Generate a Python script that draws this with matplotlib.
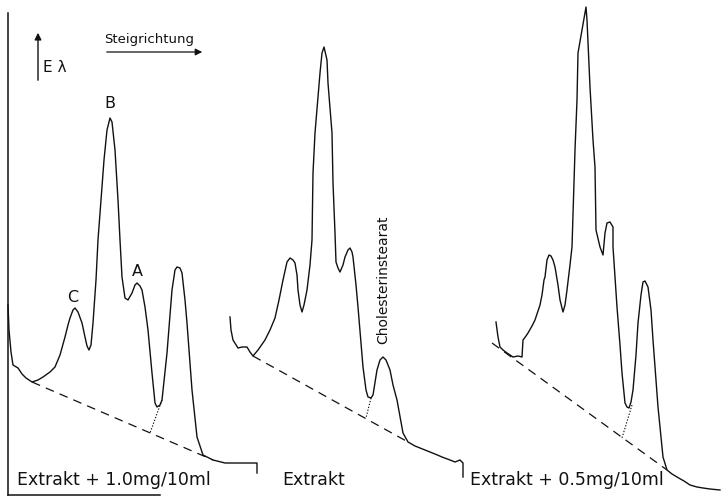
import matplotlib as mpl
mpl.use("Agg")
import matplotlib.pyplot as plt

# traces: position along run (x) and recorder depth from top (y, inverted axis)
tr1_x = [8, 9, 11, 13, 18, 22, 26, 32, 38, 43, 50, 55, 60, 65, 68, 70, 73, 75, 78, 82, 85, 87, 89, 91,
         93, 96, 98, 101, 104, 107, 110, 112, 115, 118, 120, 122, 125, 128, 132, 135, 137, 140, 142, 145,
         148, 152, 155, 157, 160, 162, 167, 170, 172, 175, 177, 180, 182, 185, 187, 192, 197, 203, 213,
         225, 240, 255, 257, 257]
tr1_y = [305, 330, 352, 365, 368, 374, 378, 382, 380, 377, 372, 367, 355, 337, 325, 318, 310, 308, 312, 323,
         337, 346, 350, 345, 323, 280, 240, 200, 160, 130, 118, 122, 150, 200, 240, 277, 298, 300, 293, 285,
         283, 286, 290, 307, 330, 373, 403, 407, 405, 400, 353, 315, 290, 270, 267, 268, 273, 300, 323, 390,
         437, 455, 460, 463, 463, 463, 463, 473]

tr2_x = [230, 231, 233, 238, 242, 247, 250, 253, 258, 265, 270, 275, 279, 283, 287, 290, 293, 295, 297, 298,
         300, 302, 304, 307, 310, 312, 313, 315, 320, 322, 324, 327, 328, 332, 333, 335, 336, 338, 340, 343,
         345, 348, 350, 352, 353, 356, 358, 363, 366, 368, 371, 373, 377, 380, 383, 386, 390, 393, 397, 403,
         408, 415, 425, 435, 442, 450, 455, 460, 463, 463]
tr2_y = [317, 330, 340, 348, 347, 347, 352, 356, 350, 340, 330, 318, 300, 280, 262, 258, 260, 263, 275, 290,
         305, 312, 305, 290, 265, 240, 173, 133, 73, 53, 47, 60, 83, 133, 183, 233, 262, 268, 272, 265,
         257, 250, 248, 252, 257, 285, 307, 367, 390, 397, 398, 395, 370, 360, 357, 360, 370, 385, 400, 433,
         442, 446, 450, 454, 457, 460, 462, 460, 463, 477]

tr3_x = [496, 498, 500, 503, 507, 513, 518, 522, 523, 526, 528, 532, 535, 540, 542, 544, 545, 547, 549, 551,
         553, 555, 558, 560, 563, 565, 567, 570, 572, 575, 577, 578, 582, 586, 587, 590, 593, 595, 596, 600,
         603, 605, 607, 610, 613, 613, 617, 620, 622, 625, 627, 629, 631, 633, 636, 638, 641, 643, 645, 648,
         651, 653, 658, 663, 667, 672, 677, 684, 690, 697, 703, 710, 720]
tr3_y = [322, 337, 347, 350, 353, 357, 356, 357, 340, 336, 333, 326, 320, 305, 295, 280, 277, 260, 255, 256,
         260, 267, 285, 300, 312, 305, 290, 265, 247, 150, 100, 53, 30, 7, 20, 87, 140, 167, 230, 247,
         255, 233, 223, 222, 227, 247, 307, 345, 373, 403, 407, 408, 402, 390, 355, 323, 295, 282, 281, 287,
         310, 340, 407, 457, 470, 474, 477, 481, 485, 487, 488, 489, 490]

# drawn-in baselines (dashed) and peak separations (dotted): (x0, y0, x1, y1)
base_lines = [(32, 382, 213, 460), (253, 356, 408, 442), (492, 343, 667, 470)]
split_lines = [(162, 400, 150, 433), (371, 398, 366, 418), (632, 405, 622, 438)]

peak_labels = ["C", "B", "A"]
peak_pos = [(73, 297), (110, 104), (137, 272)]
captions = ["Extrakt + 1.0mg/10ml", "Extrakt", "Extrakt + 0.5mg/10ml"]
caption_x = [17, 282, 470]

INK = "#111111"

fig = plt.figure(figsize=(7.21, 4.96), dpi=100)
ax = fig.add_axes([0, 0, 1, 1])
ax.set_xlim(0, 721)
ax.set_ylim(496, 0)
ax.axis("off")

# frame of the first recorder strip
fr = fig.add_axes([8 / 721, 1 / 496, 152 / 721, 482 / 496])
fr.patch.set_alpha(0)
for s in ("top", "right"):
    fr.spines[s].set_visible(False)
for s in ("left", "bottom"):
    fr.spines[s].set_linewidth(1.1)
    fr.spines[s].set_color(INK)
fr.set_xticks([]); fr.set_yticks([])

for xs, ys in ((tr1_x, tr1_y), (tr2_x, tr2_y), (tr3_x, tr3_y)):
    ax.plot(xs, ys, color=INK, lw=1.0, solid_joinstyle="round")
for x0, y0, x1, y1 in base_lines:
    ax.plot([x0, x1], [y0, y1], color=INK, lw=0.9, ls=(0, (7, 5)))
for x0, y0, x1, y1 in split_lines:
    ax.plot([x0, x1], [y0, y1], color=INK, lw=0.8, ls=(0, (1.2, 1.5)))

for lab, (px, py) in zip(peak_labels, peak_pos):
    ax.text(px, py, lab, ha="center", va="center", fontsize=11.5, color=INK)
for cap, cx in zip(captions, caption_x):
    ax.text(cx, 480, cap, ha="left", va="center", fontsize=12.5, color=INK)

ax.text(383, 280, "Cholesterinstearat", rotation=90, ha="center", va="center", fontsize=10, color=INK)

# axis annotations
ax.annotate("", xy=(38, 30), xytext=(38, 83),
            arrowprops=dict(arrowstyle="-|>", color=INK, lw=1.0, mutation_scale=10))
ax.text(43, 68, "E λ", ha="left", va="center", fontsize=11, color=INK)
ax.annotate("", xy=(205, 52), xytext=(104, 52),
            arrowprops=dict(arrowstyle="-|>", color=INK, lw=0.9, mutation_scale=10))
ax.text(104, 40, "Steigrichtung", ha="left", va="center", fontsize=9.5, color=INK)

fig.savefig("out.png", dpi=100)
